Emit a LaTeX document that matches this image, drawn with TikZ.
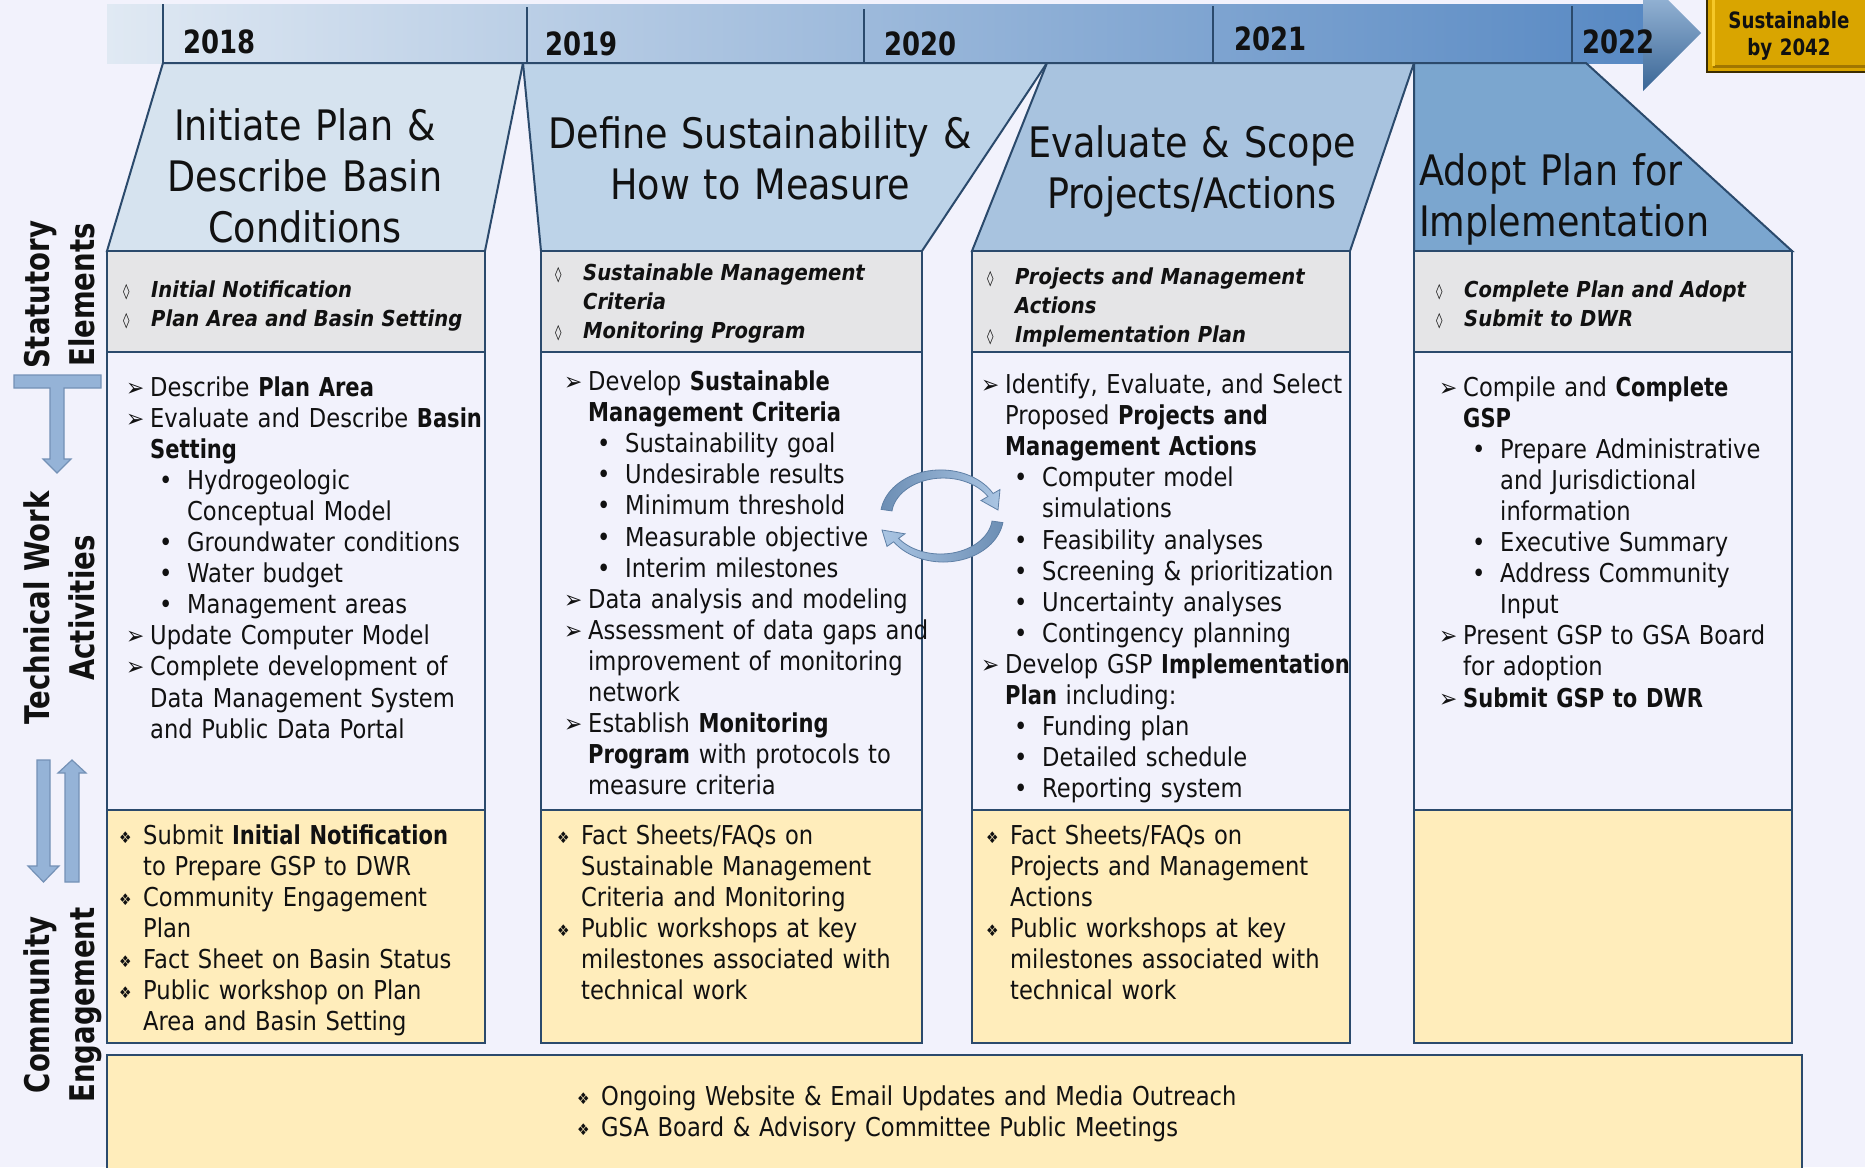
\documentclass[tikz,border=0pt]{standalone}
\usepackage{fontspec}
\setmainfont{DejaVu Sans}[
    UprightFeatures={FakeStretch=0.87},
    BoldFeatures={FakeStretch=0.81},
    ItalicFeatures={FakeStretch=0.87},
    BoldItalicFeatures={FakeStretch=0.89}]

\definecolor{bgpaper}{RGB}{242,242,252}
\definecolor{statgrey}{RGB}{229,229,231}
\definecolor{commyellow}{RGB}{255,237,187}
\definecolor{edgeblue}{RGB}{43,74,108}
\definecolor{phaseA}{RGB}{214,227,239}
\definecolor{phaseB}{RGB}{189,211,232}
\definecolor{phaseC}{RGB}{168,195,223}
\definecolor{phaseD}{RGB}{123,166,207}
\definecolor{bandL}{RGB}{224,233,243}
\definecolor{bandM}{RGB}{188,207,229}
\definecolor{bandR}{RGB}{88,137,195}
\definecolor{headT}{RGB}{168,196,226}
\definecolor{headB}{RGB}{58,102,150}
\definecolor{gold}{RGB}{217,165,0}
\definecolor{goldedge}{RGB}{60,45,0}
\definecolor{goldlight}{RGB}{245,200,40}
\definecolor{golddark}{RGB}{160,118,0}
\definecolor{arrowfill}{RGB}{149,179,215}
\definecolor{arrowedge}{RGB}{116,145,182}
\definecolor{cycdark}{RGB}{108,142,180}
\definecolor{cyclight}{RGB}{170,197,227}
\definecolor{cycedge}{RGB}{95,128,166}
\definecolor{ink}{RGB}{17,17,17}

\newcommand{\arrowbul}{\raisebox{0pt}{\fontsize{25}{25}\selectfont ➢}}
\newcommand{\lozbul}{\raisebox{1pt}{\fontsize{15}{15}\selectfont\mdseries\upshape ◊}}
\newcommand{\diabul}{\raisebox{1pt}{\fontsize{16}{16}\selectfont ❖}}
\newcommand{\itA}[1]{\hangindent=24pt\hangafter=1\makebox[24pt][l]{\arrowbul}#1\par}
\newcommand{\itB}[1]{\hangindent=61pt\hangafter=1\hspace*{33pt}\makebox[28pt][l]{•}#1\par}
\newcommand{\itS}[1]{\hangindent=28pt\hangafter=1\makebox[28pt][l]{\lozbul}#1\par}
\newcommand{\itC}[1]{\hangindent=24pt\hangafter=1\makebox[24pt][l]{\diabul}#1\par}

\begin{document}
\begin{tikzpicture}[
    x=1pt, y=-1pt,
    frame/.style={draw=edgeblue, line width=2.4pt},
    statbox/.style={frame, fill=statgrey},
    techbox/.style={frame, fill=bgpaper},
    commbox/.style={frame, fill=commyellow},
    phase/.style={draw=edgeblue, line width=2pt},
    divline/.style={draw=edgeblue, line width=1.5pt},
    listtext/.style={anchor=base west, inner sep=0pt, text width=420pt, align=left, text=ink, font=\fontsize{26}{31.1}\selectfont},
    stattext/.style={listtext, font=\fontsize{22}{29}\selectfont\bfseries\itshape},
    commtext/.style={listtext, font=\fontsize{26}{31}\selectfont},
    titletext/.style={anchor=base, inner sep=0pt, text width=500pt, align=center, text=ink, font=\fontsize{42}{51}\selectfont},
    yeartext/.style={anchor=base west, inner sep=0pt, text=ink, font=\fontsize{32}{32}\selectfont\bfseries},
    sidetext/.style={anchor=base, rotate=90, inner sep=0pt, text=ink, font=\fontsize{34}{34}\selectfont\bfseries},
    flatarrow/.style={fill=arrowfill, draw=arrowedge, line width=1.2pt},
    cyclearrow/.style={draw=cycedge, line width=0.8pt}
]
    \useasboundingbox (0,0) rectangle (1865,1167);
    \fill[bgpaper] (0,0) rectangle (1865,1167);

    %% TIMELINE
    \shade[left color=bandL, middle color=bandM, right color=bandR] (107,4) rectangle (1643,63);
    \shade[top color=headT, bottom color=headB] (1643,-25) -- (1701,33) -- (1643,91) -- cycle;
    \foreach \xd/\yt in {163/4, 527/7, 864/9, 1213/6, 1572/6}
        \draw[divline] (\xd,\yt) -- (\xd,63);

    \node[yeartext] (y2018) at (183,53) {2018};
    \node[yeartext] (y2019) at (545,55) {2019};
    \node[yeartext] (y2020) at (884,55) {2020};
    \node[yeartext] (y2021) at (1234,50) {2021};
    \node[yeartext] (y2022) at (1582,53) {2022};

    % Goal
    \draw[fill=gold, draw=goldedge, line width=2pt] (1707,-6) rectangle (1880,72);
    \draw[golddark, line width=3pt] (1713,66) -- (1880,66);
    \draw[goldlight, line width=3pt] (1713,66) -- (1713,-6);
    \node[anchor=base, inner sep=0pt, text width=160pt, align=center, text=ink,
          font=\fontsize{22.5}{27}\selectfont\bfseries] (goal) at (1789,28) {Sustainable\\by 2042};

    %% PHASE HEADERS
    \draw[phase, fill=phaseA] (163,63) -- (523,63) -- (485,251) -- (107,251) -- cycle;
    \draw[phase, fill=phaseB] (523,63) -- (1047,63) -- (922,251) -- (541,251) -- cycle;
    \draw[phase, fill=phaseC] (1047,63) -- (1414,63) -- (1350,251) -- (972,251) -- cycle;
    \draw[phase, fill=phaseD] (1414,63) -- (1586,63) -- (1792,251) -- (1414,251) -- cycle;

    \node[titletext] (title1) at (305,140) {Initiate Plan \&\\Describe Basin\\Conditions};
    \node[titletext] (title2) at (760,148) {Define Sustainability \&\\How to Measure};
    \node[titletext] (title3) at (1192,157) {Evaluate \& Scope\\Projects/Actions};
    \node[titletext, anchor=base west, align=left] (title4) at (1419,185) {Adopt Plan for\\Implementation};

    %% COLUMNS
    \foreach \xa/\xb in {107/485, 541/922, 972/1350, 1414/1792} {
        \draw[statbox] (\xa,251) rectangle (\xb,352);
        \draw[techbox] (\xa,352) rectangle (\xb,810);
        \draw[commbox] (\xa,810) rectangle (\xb,1043);
    }
    \draw[commbox] (107,1055) rectangle (1802,1190);

    % 2018
    \node[stattext] (stat1) at (123,297) {\itS{Initial Notification}\itS{Plan Area and Basin Setting}};
    \node[listtext] (tech1) at (126,396) {%
        \itA{Describe \textbf{Plan Area}}%
        \itA{Evaluate and Describe \textbf{Basin}\newline\textbf{Setting}}%
        \itB{Hydrogeologic\newline Conceptual Model}%
        \itB{Groundwater conditions}%
        \itB{Water budget}%
        \itB{Management areas}%
        \itA{Update Computer Model}%
        \itA{Complete development of\newline Data Management System\newline and Public Data Portal}};
    \node[commtext] (comm1) at (119,844) {%
        \itC{Submit \textbf{Initial Notification}\newline to Prepare GSP to DWR}%
        \itC{Community Engagement\newline Plan}%
        \itC{Fact Sheet on Basin Status}%
        \itC{Public workshop on Plan\newline Area and Basin Setting}};

    % 2019
    \node[stattext] (stat2) at (555,280) {\itS{Sustainable Management\newline Criteria}\itS{Monitoring Program}};
    \node[listtext] (tech2) at (564,390.5) {%
        \itA{Develop \textbf{Sustainable}\newline\textbf{Management Criteria}}%
        \itB{Sustainability goal}%
        \itB{Undesirable results}%
        \itB{Minimum threshold}%
        \itB{Measurable objective}%
        \itB{Interim milestones}%
        \itA{Data analysis and modeling}%
        \itA{Assessment of data gaps and\newline improvement of monitoring\newline network}%
        \itA{Establish \textbf{Monitoring}\newline\textbf{Program} with protocols to\newline measure criteria}};
    \node[commtext] (comm2) at (557,844) {%
        \itC{Fact Sheets/FAQs on\newline Sustainable Management\newline Criteria and Monitoring}%
        \itC{Public workshops at key\newline milestones associated with\newline technical work}};

    % 2020-2021
    \node[stattext] (stat3) at (987,284) {\itS{Projects and Management\newline Actions}\itS{Implementation Plan}};
    \node[listtext] (tech3) at (981,393.5) {%
        \itA{Identify, Evaluate, and Select\newline Proposed \textbf{Projects and}\newline\textbf{Management Actions}}%
        \itB{Computer model\newline simulations}%
        \itB{Feasibility analyses}%
        \itB{Screening \& prioritization}%
        \itB{Uncertainty analyses}%
        \itB{Contingency planning}%
        \itA{Develop GSP \textbf{Implementation}\newline\textbf{Plan} including:}%
        \itB{Funding plan}%
        \itB{Detailed schedule}%
        \itB{Reporting system}};
    \node[commtext] (comm3) at (986,844) {%
        \itC{Fact Sheets/FAQs on\newline Projects and Management\newline Actions}%
        \itC{Public workshops at key\newline milestones associated with\newline technical work}};

    % 2022
    \node[stattext] (stat4) at (1436,297) {\itS{Complete Plan and Adopt}\itS{Submit to DWR}};
    \node[listtext] (tech4) at (1439,396) {%
        \itA{Compile and \textbf{Complete}\newline\textbf{GSP}}%
        \itB{Prepare Administrative\newline and Jurisdictional\newline information}%
        \itB{Executive Summary}%
        \itB{Address Community\newline Input}%
        \itA{Present GSP to GSA Board\newline for adoption}%
        \itA{\textbf{Submit GSP to DWR}}};

    % Ongoing
    \node[commtext, text width=800pt] (ongoing) at (577,1105) {%
        \itC{Ongoing Website \& Email Updates and Media Outreach}%
        \itC{GSA Board \& Advisory Committee Public Meetings}};

    %% SIDE LABELS
    \node[sidetext] (statA) at (49,295) {Statutory};
    \node[sidetext] (statB) at (94,295) {Elements};
    \node[sidetext] (techA) at (49,608) {Technical Work};
    \node[sidetext] (techB) at (94,608) {Activities};
    \node[sidetext] (commA) at (49,1005) {Community};
    \node[sidetext] (commB) at (94,1005) {Engagement};

    % Flow arrows
    \draw[flatarrow] (14,375) -- (101,375) -- (101,388) -- (64,388) -- (64,459) -- (71,459)
        -- (57,473) -- (43,459) -- (50,459) -- (50,388) -- (14,388) -- cycle;
    \draw[flatarrow] (37,760) -- (50,760) -- (50,866) -- (59,866) -- (43.5,882) -- (28,866) -- (37,866) -- cycle;
    \draw[flatarrow] (65,882) -- (79,882) -- (79,773) -- (86,773) -- (72,760) -- (58,773) -- (65,773) -- cycle;

    % Iteration cycle
    \path[cyclearrow, left color=cycdark, right color=cyclight]
        plot[domain=188:330, samples=40, variable=\t]
            ({942+(61.5-2.5*(\t-188)/142)*cos(\t)}, {516+(47.5-2.5*(\t-188)/142)*sin(\t)})
        -- (1000,489.5) -- (998,510) -- (981,500.5)
        -- plot[domain=330:188, samples=40, variable=\t]
            ({942+(50.5+2.5*(\t-188)/142)*cos(\t)}, {516+(36.5+2.5*(\t-188)/142)*sin(\t)})
        -- cycle;
    \path[cyclearrow, left color=cyclight, right color=cycdark]
        plot[domain=8:145, samples=40, variable=\t]
            ({942+(61.5-2.5*(\t-8)/137)*cos(\t)}, {516+(47.5-2.5*(\t-8)/137)*sin(\t)})
        -- (887,546.4) -- (882,530) -- (905,533.8)
        -- plot[domain=145:8, samples=40, variable=\t]
            ({942+(50.5+2.5*(\t-8)/137)*cos(\t)}, {516+(36.5+2.5*(\t-8)/137)*sin(\t)})
        -- cycle;

\end{tikzpicture}
\end{document}
